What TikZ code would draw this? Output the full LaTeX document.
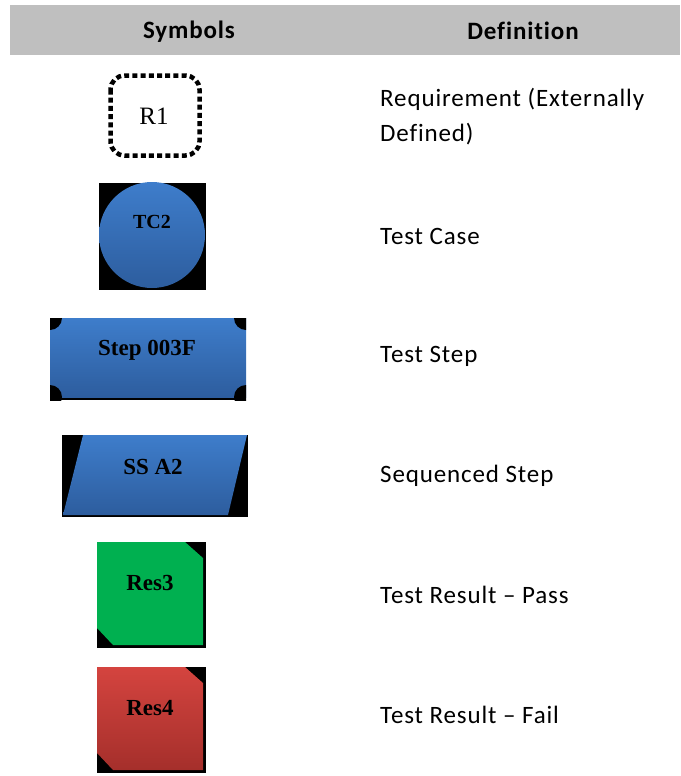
\documentclass[tikz,border=0pt]{standalone}
\usepackage{fontspec}
\setmainfont{Carlito}[LetterSpace=3.5, Ligatures={NoCommon}]
\newfontfamily\shapefont{Liberation Serif}
\usetikzlibrary{calc}
\definecolor{hdrgray}{HTML}{BFBFBF}
\definecolor{stepblue}{HTML}{3E7DCB}
\definecolor{stepbluedk}{HTML}{2D5D9E}
\definecolor{passgreen}{HTML}{00B050}
\definecolor{failred}{HTML}{D4443F}
\definecolor{failreddk}{HTML}{A52F2B}
\tikzset{
	headtext/.style={inner sep=0pt, font=\fontsize{25}{30}\selectfont\bfseries},
	deftext/.style={anchor=west, inner sep=0pt, align=left, font=\fontsize{25}{35}\selectfont},
	symtext/.style={inner sep=0pt, font=\shapefont\bfseries\fontsize{23}{23}\selectfont},
	blueshade/.style={top color=stepblue, bottom color=stepbluedk},
	redshade/.style={top color=failred, bottom color=failreddk},
}

\begin{document}
\begin{tikzpicture}[x=1pt,y=-1pt]
			%%%%% START %%%%%
			\def\xtext{380}
			\def\rstep{12}
			\def\resdy{125}
			\useasboundingbox (0,0) rectangle (680,776);
			
			% header
			\fill[hdrgray] (10,5) rectangle (680,55);
			\node[headtext] (hsym) at (189,32) {Symbols};
			\node[headtext] (hdef) at (523,31) {Definition};
			
			% requirement
			\draw[line width=4.5pt, dash pattern=on 5pt off 3.2pt, rounded corners=14pt] (110.5,75.5) rectangle (199.5,155.5);
			\node[inner sep=0pt, font=\shapefont\fontsize{25}{25}\selectfont] (req) at (154,116) {R1};
			\node[deftext] (dreq) at (\xtext,117) {Requirement (Externally\\Defined)};
			
			% test case
			\fill[black] (99,183) rectangle (206,290);
			\shade[blueshade] (152,235) circle (53pt);
			\node[symtext, font=\shapefont\bfseries\fontsize{20}{20}\selectfont] (tc) at (152,222) {TC2};
			\node[deftext] (dtc) at (\xtext,236) {Test Case};
			
			% test step
			\begin{scope}
				\clip (50,318) rectangle (246,400);
				\fill[black] (50,318) rectangle (246,400);
				\shade[blueshade] (50,318) rectangle (246,397);
				\foreach \cx/\cy in {50/318, 246/318, 50/397, 246/397}
					\fill[black] (\cx,\cy) circle (\rstep pt);
			\end{scope}
			\node[symtext] (step) at (147,350) {Step 003F};
			\node[deftext] (dstep) at (\xtext,356) {Test Step};
			
			% sequenced step
			\fill[black] (62,435) rectangle (248,517);
			\shade[blueshade] (83,435) -- (247,435) -- (228,515) -- (63,515) -- cycle;
			\node[symtext] (seq) at (153,467) {SS A2};
			\node[deftext] (dseq) at (\xtext,476) {Sequenced Step};
			
			% results
			\fill[black] (97,542) rectangle (206,648);
			\fill[passgreen] (97,542) -- (185,542) -- (203,558) -- (203,645) -- (113,645) -- (97,628) -- cycle;
			\node[symtext] (pass) at (150,583) {Res3};
			\node[deftext] (dpass) at (\xtext,595) {Test Result -- Pass};
			
			\fill[black] (97,542+\resdy) rectangle (206,648+\resdy);
			\shade[redshade] (97,542+\resdy) -- (185,542+\resdy) -- (203,558+\resdy) -- (203,645+\resdy) -- (113,645+\resdy) -- (97,628+\resdy) -- cycle;
			\node[symtext] (fail) at (150,708) {Res4};
			\node[deftext] (dfail) at (\xtext,715) {Test Result -- Fail};
			%%%%% END %%%%%
\end{tikzpicture}
\end{document}
